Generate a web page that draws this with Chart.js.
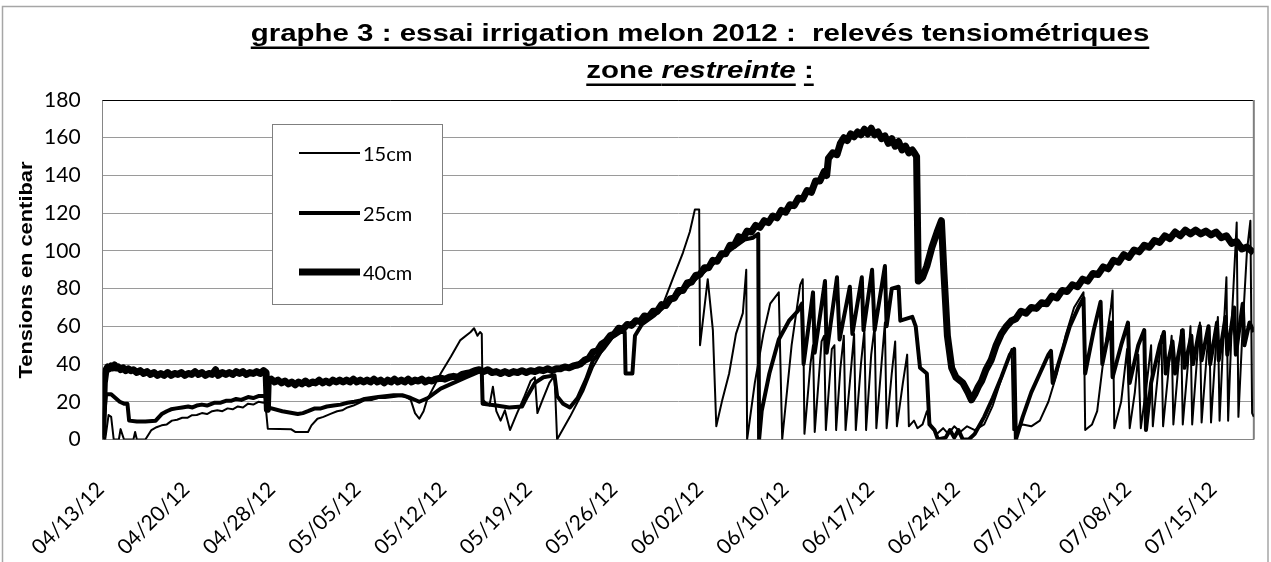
<!DOCTYPE html>
<html><head><meta charset="utf-8">
<script src="https://cdn.jsdelivr.net/npm/chart.js@4/dist/chart.umd.min.js"></script>
<style>html,body{margin:0;padding:0;background:#fff;overflow:hidden}#wrap{width:1271px;height:562px}</style>
</head><body><div id="wrap"><canvas id="c" width="1271" height="562"></canvas></div>
<script>
// Category tick labels (one every N readings)
const tickLabels = ['04/13/12','04/20/12','04/28/12','05/05/12','05/12/12','05/19/12','05/26/12','06/02/12','06/10/12','06/17/12','06/24/12','07/01/12','07/08/12','07/15/12'];
const lastReading = 13.45; // position of last reading, in tick-interval units

// [reading position (tick-interval units), tension (centibar)]
const tension15 = [[0,2],[0.03,0],[0.07,13],[0.10,12],[0.13,0],[0.19,0],[0.21,5.5],[0.25,0],[0.36,0],[0.38,4],[0.40,0],[0.50,0],[0.57,5],[0.63,6.5],[0.69,7.5],[0.75,8],[0.81,10],[0.87,10.5],[0.93,11.5],[0.99,11.5],[1.04,12.8],[1.10,13],[1.16,14],[1.22,13.5],[1.28,15],[1.34,15.5],[1.40,15],[1.46,16.5],[1.52,16],[1.58,17.5],[1.64,17],[1.70,19],[1.76,18.5],[1.82,20],[1.88,19.5],[1.90,20],[1.93,5.7],[2.20,5.5],[2.25,4],[2.40,4],[2.44,7.5],[2.51,11],[2.58,12],[2.67,13.7],[2.74,15],[2.80,15.5],[2.86,17],[2.93,18],[3.00,19.5],[3.06,20.8],[3.15,21],[3.22,22],[3.30,22],[3.40,22.5],[3.47,23],[3.55,22.5],[3.60,21],[3.65,14],[3.70,11],[3.75,15],[3.79,21],[3.95,35],[4.07,44],[4.18,52.7],[4.30,57],[4.34,59],[4.38,55],[4.41,57],[4.43,56],[4.44,21],[4.52,18],[4.56,28],[4.60,15],[4.65,10],[4.70,15.5],[4.76,5],[4.84,13.7],[4.92,22],[5.00,31],[5.05,33],[5.08,14],[5.14,21],[5.22,30],[5.28,34],[5.31,0],[5.46,12],[5.62,26],[5.73,38.5],[5.85,48],[6.00,56],[6.20,62],[6.35,64],[6.45,67],[6.55,72],[6.66,85],[6.78,99],[6.86,110],[6.92,122],[6.97,122],[6.98,50],[7.07,85],[7.13,58],[7.17,7],[7.24,21],[7.32,35],[7.40,56],[7.48,67],[7.52,90],[7.53,0],[7.62,30],[7.72,56],[7.80,72],[7.90,78],[7.94,0],[8.05,50],[8.15,82],[8.18,85],[8.20,3],[8.27,40],[8.30,50],[8.32,4],[8.40,52],[8.43,55],[8.45,5],[8.52,48],[8.55,50],[8.57,5],[8.62,38],[8.66,55],[8.68,5],[8.73,30],[8.78,56],[8.80,5],[8.86,40],[8.90,58],[8.92,5],[8.98,45],[9.02,60],[9.04,6],[9.10,40],[9.14,62],[9.16,6],[9.22,35],[9.26,52],[9.28,7],[9.35,30],[9.40,45],[9.42,7],[9.48,10],[9.52,6],[9.58,8],[9.63,15],[9.68,7],[9.75,3],[9.82,6],[9.88,3],[9.95,7],[10.02,4],[10.10,7],[10.19,5],[10.30,8],[10.40,18],[10.50,32],[10.58,43],[10.62,48],[10.64,5],[10.75,8],[10.85,7],[10.95,10],[11.05,20],[11.15,35],[11.25,55],[11.35,70],[11.46,78],[11.48,5],[11.56,8],[11.62,15],[11.70,45],[11.78,70],[11.80,79],[11.82,6],[11.90,20],[11.97,48],[12.00,6],[12.06,25],[12.10,45],[12.13,6],[12.20,30],[12.25,50],[12.27,7],[12.33,35],[12.37,55],[12.39,7],[12.45,35],[12.49,55],[12.51,8],[12.57,40],[12.60,58],[12.62,8],[12.68,40],[12.71,60],[12.73,8],[12.79,45],[12.82,62],[12.84,9],[12.90,45],[12.93,60],[12.95,9],[13.00,45],[13.03,65],[13.05,10],[13.10,60],[13.13,86],[13.15,10],[13.20,70],[13.25,115],[13.27,12],[13.32,60],[13.37,100],[13.41,116],[13.43,14],[13.45,12]];

const tension25 = [[0,0],[0.02,14],[0.04,24],[0.10,24],[0.15,22],[0.20,20],[0.25,19],[0.29,19],[0.31,10],[0.40,9.5],[0.50,9.5],[0.62,10],[0.69,13.5],[0.75,15],[0.80,16],[0.86,16.5],[0.93,17],[1.00,17.5],[1.05,17],[1.10,18],[1.16,18.5],[1.22,18],[1.31,19.5],[1.38,19.5],[1.44,20.5],[1.50,20.5],[1.56,21.5],[1.62,21],[1.70,22.5],[1.76,22],[1.82,23],[1.90,23],[1.93,17],[2.10,15],[2.28,13.5],[2.34,14],[2.40,15],[2.48,16.5],[2.55,16.5],[2.62,17.5],[2.70,18],[2.78,18.5],[2.86,19.5],[2.94,20],[3.00,20.5],[3.06,21.5],[3.14,22],[3.22,22.5],[3.30,23],[3.40,23.5],[3.50,23.5],[3.60,22],[3.70,20],[3.80,22],[3.95,27],[4.10,30],[4.25,33],[4.40,36],[4.43,36],[4.44,19],[4.60,18],[4.75,17],[4.90,17.5],[4.95,22],[5.05,30],[5.15,33],[5.28,34],[5.31,23],[5.38,19],[5.46,17],[5.55,22],[5.65,32],[5.73,42],[5.85,48],[5.95,54],[6.05,57],[6.10,57],[6.11,35],[6.19,35],[6.22,55],[6.30,61],[6.45,66],[6.60,72],[6.75,78],[6.90,84],[7.05,90],[7.20,96],[7.35,101],[7.50,106],[7.60,107],[7.66,109],[7.67,0],[7.70,15],[7.79,35],[7.90,53],[8.02,63],[8.12,68],[8.17,72],[8.19,40],[8.30,78],[8.32,46],[8.44,84],[8.46,46],[8.58,86],[8.61,53],[8.73,81],[8.76,56],[8.87,86],[8.89,58],[8.99,90],[9.02,58],[9.14,92],[9.16,60],[9.22,80],[9.30,81],[9.32,63],[9.46,65],[9.50,60],[9.55,38],[9.63,35],[9.66,8],[9.72,5],[9.76,0],[9.85,1],[9.90,5],[9.95,1],[10.00,5],[10.05,0],[10.12,0],[10.19,3],[10.30,12],[10.40,22],[10.50,33],[10.60,45],[10.65,48],[10.67,0],[10.75,12],[10.85,25],[10.95,35],[11.05,45],[11.08,47],[11.10,30],[11.20,45],[11.30,60],[11.40,70],[11.46,75],[11.48,35],[11.58,58],[11.66,73],[11.68,40],[11.78,62],[11.80,33],[11.90,50],[11.98,62],[12.00,30],[12.10,50],[12.17,58],[12.19,5],[12.25,30],[12.35,50],[12.40,57],[12.42,35],[12.50,52],[12.53,35],[12.62,58],[12.64,38],[12.72,55],[12.74,40],[12.82,60],[12.84,42],[12.92,60],[12.94,40],[13.02,62],[13.04,42],[13.12,65],[13.14,45],[13.22,70],[13.24,45],[13.32,72],[13.34,50],[13.40,62],[13.45,57]];

const tension40 = [[0,2],[0.02,30],[0.04,37],[0.06,38.5],[0.08,37.5],[0.10,39],[0.12,38],[0.14,39.5],[0.16,38],[0.18,38.5],[0.21,37],[0.24,38],[0.27,36.5],[0.30,37.5],[0.33,36.5],[0.36,37],[0.40,35.5],[0.44,36.5],[0.48,35],[0.52,36],[0.56,34.5],[0.60,35.5],[0.64,34],[0.68,35],[0.72,34],[0.76,35.5],[0.80,34],[0.84,35],[0.88,34.5],[0.92,35.5],[0.96,34],[1.00,35],[1.04,34.5],[1.08,36],[1.12,34.5],[1.16,35.5],[1.20,34],[1.24,35],[1.28,34.5],[1.32,37],[1.35,34],[1.40,35.5],[1.44,34.5],[1.48,35.5],[1.52,34.5],[1.56,36],[1.60,35],[1.64,36],[1.68,34.5],[1.72,35.5],[1.76,35],[1.80,36],[1.84,35],[1.88,36.5],[1.91,35.5],[1.925,16],[1.935,31],[1.97,32],[2.01,30.5],[2.05,31.5],[2.09,30],[2.13,31],[2.17,29.5],[2.21,30.5],[2.25,29],[2.29,30.5],[2.33,29.5],[2.37,31],[2.41,29.5],[2.45,30.5],[2.49,30],[2.53,31.5],[2.57,30],[2.61,31],[2.65,30],[2.69,31.5],[2.73,30.5],[2.77,31.5],[2.81,30.5],[2.85,31.5],[2.89,30.5],[2.93,32],[2.97,30.5],[3.01,31.5],[3.05,30.5],[3.09,31.5],[3.13,30.5],[3.17,32],[3.21,30.5],[3.25,31.5],[3.29,30],[3.33,31.5],[3.37,30.5],[3.41,32],[3.45,30.5],[3.49,31.5],[3.53,30.5],[3.57,32],[3.61,30.5],[3.65,31.5],[3.69,31],[3.73,32],[3.77,30.5],[3.81,31.5],[3.85,31],[3.89,32],[3.95,32.5],[4.00,32],[4.05,33],[4.10,33.5],[4.15,33],[4.20,34.5],[4.25,35],[4.30,35.5],[4.35,36.5],[4.40,37],[4.45,36],[4.50,37],[4.55,35.5],[4.60,36],[4.65,35],[4.70,36],[4.75,35],[4.80,36],[4.85,35.5],[4.90,36.5],[4.95,35.5],[5.00,36.5],[5.05,36],[5.10,37],[5.15,36.5],[5.20,37.5],[5.25,36.5],[5.30,37.5],[5.35,37.5],[5.40,38.5],[5.45,38],[5.50,39],[5.55,39.5],[5.58,40],[5.63,42],[5.68,43],[5.73,46.5],[5.78,47],[5.83,50.5],[5.88,52],[5.93,55],[5.98,56],[6.03,59],[6.08,58.5],[6.13,61],[6.18,60.5],[6.23,63],[6.28,62.5],[6.33,65.5],[6.38,65],[6.43,68],[6.48,68],[6.53,71.5],[6.58,71],[6.63,74.5],[6.68,75],[6.73,79],[6.78,79],[6.83,83],[6.88,83.5],[6.93,87],[6.98,87.5],[7.03,91],[7.08,91],[7.13,95],[7.18,94.5],[7.23,98.5],[7.28,98.5],[7.33,103],[7.38,103],[7.43,107.5],[7.48,106.5],[7.53,110.5],[7.58,110],[7.63,113.5],[7.68,112.5],[7.73,116],[7.78,115],[7.83,118.5],[7.88,117.5],[7.93,121.5],[7.98,120.5],[8.03,124.5],[8.08,124],[8.13,128],[8.18,127.5],[8.23,132],[8.28,131],[8.33,137],[8.38,137],[8.43,142],[8.46,140],[8.48,149],[8.53,152],[8.58,151],[8.62,157],[8.66,160],[8.70,158.5],[8.74,162],[8.78,160.5],[8.82,163],[8.86,161.5],[8.90,164.5],[8.94,162],[8.98,165],[9.02,161.5],[9.06,163],[9.10,159.5],[9.14,161],[9.18,157],[9.22,159.5],[9.26,155.5],[9.30,158],[9.34,153.5],[9.38,155.5],[9.42,152],[9.46,153.5],[9.49,151.5],[9.51,150],[9.53,84],[9.58,86],[9.63,92],[9.69,102],[9.75,110],[9.80,116],[9.83,88],[9.87,55],[9.92,38],[9.97,33],[10.05,30],[10.11,25],[10.15,21],[10.19,24],[10.23,28],[10.27,31],[10.32,37],[10.38,42],[10.44,50],[10.50,56],[10.56,60],[10.62,63],[10.67,64],[10.73,68],[10.79,67],[10.85,70],[10.91,69.5],[10.97,72.5],[11.03,72],[11.09,76],[11.15,75],[11.21,79],[11.27,78.5],[11.33,82],[11.39,81],[11.45,85],[11.51,84],[11.57,88],[11.63,87.5],[11.69,91.5],[11.75,90.5],[11.81,95],[11.87,94],[11.93,98],[11.99,96.5],[12.05,100.5],[12.11,99.5],[12.17,103],[12.23,102],[12.29,105.5],[12.35,104.5],[12.41,108],[12.47,106.5],[12.53,110],[12.59,108],[12.65,111],[12.71,109],[12.77,111],[12.83,109],[12.89,110.5],[12.95,108.5],[13.01,110],[13.07,107],[13.13,108],[13.19,104],[13.25,105],[13.31,101],[13.37,102],[13.45,99]];

const seriesNames = ['15cm','25cm','40cm'];

const toPts = arr => arr.map(([x, y]) => ({x, y}));

const framePlugin = {
  id: 'frame',
  beforeDraw(chart) {
    const ctx = chart.ctx;
    ctx.save();
    ctx.fillStyle = '#fff';
    ctx.fillRect(0, 0, chart.width, chart.height);
    ctx.strokeStyle = '#a6a6a6';
    ctx.lineWidth = 1.5;
    ctx.strokeRect(2.5, 6.5, 1265.5, 600);
    ctx.restore();
  },
  beforeDatasetsDraw(chart) {
    const {ctx, chartArea: a} = chart;
    ctx.save();
    ctx.strokeStyle = '#000'; ctx.lineWidth = 1;
    ctx.beginPath(); ctx.moveTo(a.left, a.top + 0.5); ctx.lineTo(a.right, a.top + 0.5); ctx.stroke();
    ctx.strokeStyle = '#7f7f7f'; ctx.lineWidth = 2;
    ctx.beginPath(); ctx.moveTo(a.right, a.top); ctx.lineTo(a.right, a.bottom); ctx.stroke();
    ctx.restore();
  },
  afterDraw(chart) {
    const ctx = chart.ctx;
    const drawRuns = (runs, cx, base, sx) => {
      ctx.save();
      ctx.translate(cx, base);
      ctx.scale(sx, 1);
      ctx.fillStyle = '#000';
      ctx.textBaseline = 'alphabetic';
      ctx.textAlign = 'left';
      const fontOf = r => (r.italic ? 'italic ' : '') + 'bold 24px "Liberation Sans", Arial, sans-serif';
      let total = 0;
      const w = runs.map(r => { ctx.font = fontOf(r); const m = ctx.measureText(r.text).width; total += m; return m; });
      let x = -total / 2;
      runs.forEach((r, i) => {
        ctx.font = fontOf(r);
        ctx.fillText(r.text, x, 0);
        if (r.u) ctx.fillRect(x, 5.5, w[i], 2.5);
        x += w[i];
      });
      ctx.restore();
    };
    drawRuns([{text: 'graphe 3 : essai irrigation melon 2012 :  relevés tensiométriques', u: true}], 700, 41, 1.227);
    drawRuns([{text: 'zone ', u: true}, {text: 'restreinte', italic: true, u: true}, {text: ' ', u: false}, {text: ':', u: true}], 700, 78, 1.227);

    ctx.save();
    ctx.translate(27, 270);
    ctx.rotate(-Math.PI / 2);
    ctx.scale(1.15, 1);
    ctx.font = 'bold 19px "Liberation Sans", Arial, sans-serif';
    ctx.fillStyle = '#000';
    ctx.textAlign = 'center';
    ctx.textBaseline = 'middle';
    ctx.fillText('Tensions en centibar', 0, 0);
    ctx.restore();

    ctx.save();
    ctx.fillStyle = '#fff';
    ctx.fillRect(272, 124, 171, 181);
    ctx.strokeStyle = '#7f7f7f';
    ctx.lineWidth = 1;
    ctx.strokeRect(272.5, 124.5, 170, 180);
    const rows = [153, 213, 272];
    chart.data.datasets.forEach((ds, i) => {
      ctx.strokeStyle = ds.borderColor;
      ctx.lineWidth = ds.borderWidth;
      ctx.beginPath();
      ctx.moveTo(299, rows[i]);
      ctx.lineTo(360, rows[i]);
      ctx.stroke();
      ctx.fillStyle = '#000';
      ctx.font = '20px Lato, sans-serif';
      ctx.textAlign = 'left';
      ctx.textBaseline = 'middle';
      ctx.fillText(ds.label, 363, rows[i] + 2);
    });
    ctx.restore();
  }
};

new Chart(document.getElementById('c'), {
  type: 'line',
  data: {
    datasets: [
      {label: seriesNames[0], data: toPts(tension15), borderColor: '#000', borderWidth: 2, order: 3},
      {label: seriesNames[1], data: toPts(tension25), borderColor: '#000', borderWidth: 4, order: 2},
      {label: seriesNames[2], data: toPts(tension40), borderColor: '#000', borderWidth: 7, order: 1}
    ]
  },
  options: {
    responsive: false,
    devicePixelRatio: 1,
    animation: false,
    events: [],
    elements: {
      point: {radius: 0, hoverRadius: 0},
      line: {tension: 0, fill: false, borderJoinStyle: 'round', borderCapStyle: 'butt'}
    },
    layout: {padding: {left: 0, right: 17, top: 100, bottom: 0}},
    plugins: {legend: {display: false}, title: {display: false}, tooltip: {enabled: false}},
    scales: {
      x: {
        type: 'linear', min: 0, max: lastReading,
        afterBuildTicks: s => { s.ticks = tickLabels.map((_, i) => ({value: i})); },
        afterFit: s => { s.height = 122.5; },
        ticks: {autoSkip: false, minRotation: 45, maxRotation: 45, padding: 37.5, labelOffset: -2, color: '#000',
          font: {family: 'Lato', size: 21}, callback: v => tickLabels[v] ?? ''},
        grid: {display: false, drawTicks: false},
        border: {display: true, color: '#868686', width: 1}
      },
      y: {
        min: 0, max: 180,
        afterFit: s => { s.width = 97; },
        ticks: {stepSize: 20, padding: 22, color: '#000', font: {family: 'Lato', size: 21}},
        grid: {color: '#9a9a9a', lineWidth: 1, drawTicks: false},
        border: {display: true, color: '#868686', width: 1}
      }
    }
  },
  plugins: [framePlugin]
});
</script>
</body></html>
